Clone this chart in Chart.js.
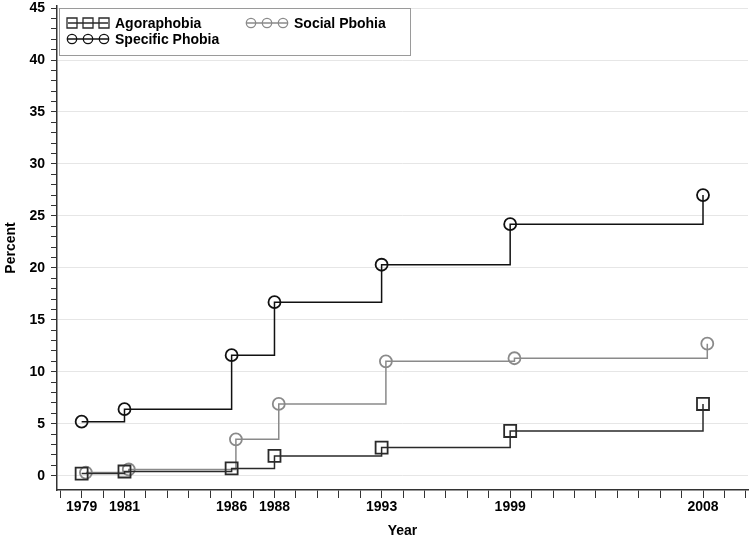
<!DOCTYPE html>
<html>
<head>
<meta charset="utf-8">
<script src="https://cdn.jsdelivr.net/npm/chart.js@4/dist/chart.umd.min.js"></script>
<style>
  html, body { margin: 0; padding: 0; background: #fff; }
  #wrap { width: 752px; height: 537px; position: relative; }
</style>
</head>
<body>
<div id="wrap"><canvas id="chart"></canvas></div>
<script>
  // survey years (x) and prevalence in percent (y)
  const years = [1979, 1981, 1986, 1988, 1993, 1999, 2008];
  const agoraphobia = [0.2, 0.4, 0.7, 1.9, 2.7, 4.3, 6.9];
  const specificPhobia = [5.2, 6.4, 11.6, 16.7, 20.3, 24.2, 27.0];
  const socialPhobia = [0.3, 0.6, 3.5, 6.9, 11.0, 11.3, 12.7];

  const labelYears = years;
  const yTickLabels = [0, 5, 10, 15, 20, 25, 30, 35, 40, 45];

  // social phobia points are drawn a little to the right, like in the original
  const socialShift = 0.2;

  const FONT = "'Liberation Sans', Arial, sans-serif";

  function toPoints(values, shift) {
    return years.map((yr, i) => ({ x: yr + (shift || 0), y: values[i] }));
  }

  const series = [
    { label: "Agoraphobia", data: toPoints(agoraphobia), color: "#2a2a2a", marker: "rect", radius: 8.5 },
    { label: "Specific Phobia", data: toPoints(specificPhobia), color: "#111111", marker: "circle", radius: 6 },
    { label: "Social Pbohia", data: toPoints(socialPhobia, socialShift), color: "#8a8a8a", marker: "circle", radius: 6 },
  ];

  // legend box drawn by hand: three markers on a line for each series
  const legendBox = {
    id: "legendBox",
    afterDraw(chart) {
      const ctx = chart.ctx;
      ctx.save();
      ctx.fillStyle = "#fff";
      ctx.strokeStyle = "#9a9a9a";
      ctx.lineWidth = 1;
      ctx.fillRect(59.5, 8.5, 351, 47);
      ctx.strokeRect(59.5, 8.5, 351, 47);

      const slots = [
        { s: series[0], x: 72, y: 23 },
        { s: series[1], x: 72, y: 39 },
        { s: series[2], x: 251, y: 23 },
      ];
      slots.forEach(({ s, x, y }) => {
        ctx.strokeStyle = s.color;
        ctx.lineWidth = 1.3;
        ctx.beginPath();
        ctx.moveTo(x - 4, y);
        ctx.lineTo(x + 36, y);
        ctx.stroke();
        for (let k = 0; k < 3; k++) {
          const cx = x + k * 16;
          ctx.beginPath();
          if (s.marker === "rect") ctx.rect(cx - 5, y - 5, 10, 10);
          else ctx.arc(cx, y, 4.7, 0, Math.PI * 2);
          ctx.stroke();
        }
        ctx.fillStyle = "#000";
        ctx.font = "bold 14px " + FONT;
        ctx.textBaseline = "middle";
        ctx.textAlign = "left";
        ctx.fillText(s.label, x + 43, y + 1);
      });
      ctx.restore();
    },
  };

  new Chart(document.getElementById("chart"), {
    type: "line",
    data: {
      datasets: series.map((s) => ({
        label: s.label,
        data: s.data,
        stepped: true,
        borderColor: s.color,
        borderWidth: 1.5,
        pointStyle: s.marker,
        pointRadius: s.radius,
        pointHoverRadius: s.radius,
        pointBorderColor: s.color,
        pointBackgroundColor: "rgba(0,0,0,0)",
        pointBorderWidth: 1.8,
        fill: false,
      })),
    },
    options: {
      responsive: true,
      maintainAspectRatio: false,
      animation: false,
      events: [],
      layout: { autoPadding: false, padding: { top: 6, right: 4, left: 0, bottom: 0 } },
      plugins: { legend: { display: false }, tooltip: { enabled: false } },
      scales: {
        x: {
          type: "linear",
          min: 1977.85,
          max: 2010.1,
          afterFit(scale) {
            scale.height = 47;
            scale.paddingLeft = 0;
            scale.paddingRight = 0;
          },
          afterBuildTicks(scale) {
            const t = [];
            for (let v = 1978; v <= 2010; v++) t.push({ value: v });
            scale.ticks = t;
          },
          ticks: {
            autoSkip: false,
            maxRotation: 0,
            padding: 1,
            color: "#000",
            font: { family: FONT, size: 14, weight: "bold" },
            callback: (v) => (labelYears.includes(v) ? String(v) : ""),
          },
          grid: { drawOnChartArea: false, drawTicks: true, tickLength: 8, tickColor: "#333", tickWidth: 1 },
          border: { color: "#333", width: 1.5 },
          title: { display: true, text: "Year", color: "#000", font: { family: FONT, size: 14, weight: "bold" }, padding: { top: 0, bottom: -3 } },
        },
        y: {
          min: -1.38,
          max: 45.2,
          afterFit(scale) {
            scale.width = 57;
            scale.paddingTop = 0;
            scale.paddingBottom = 0;
          },
          afterBuildTicks(scale) {
            const t = [];
            for (let v = 0; v <= 45; v++) t.push({ value: v });
            scale.ticks = t;
          },
          ticks: {
            autoSkip: false,
            padding: 6,
            color: "#000",
            font: { family: FONT, size: 14, weight: "bold" },
            callback: (v) => (yTickLabels.includes(v) ? String(v) : ""),
          },
          grid: {
            color: (c) => (c.tick && yTickLabels.includes(c.tick.value) ? "#e6e6e6" : "rgba(0,0,0,0)"),
            lineWidth: 1,
            tickLength: 6,
            tickColor: "#333",
            tickWidth: 1,
          },
          border: { color: "#333", width: 1.5 },
          title: { display: true, text: "Percent", color: "#000", font: { family: FONT, size: 14, weight: "bold" }, padding: { top: 3, bottom: 0 } },
        },
      },
    },
    plugins: [legendBox],
  });
</script>
</body>
</html>
